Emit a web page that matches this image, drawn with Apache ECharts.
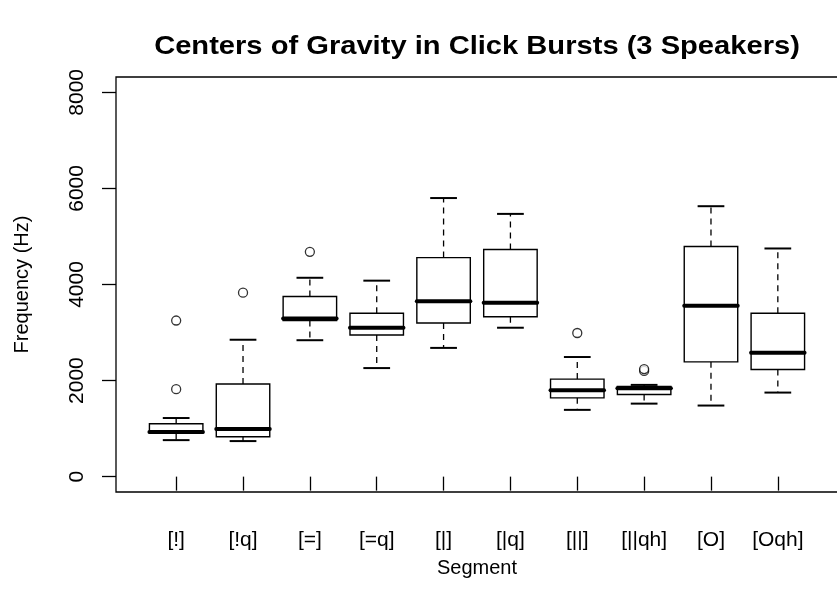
<!DOCTYPE html>
<html>
<head>
<meta charset="utf-8">
<title>Centers of Gravity in Click Bursts</title>
<script src="https://cdn.jsdelivr.net/npm/echarts@6/dist/echarts.min.js"></script>
<style>
  html, body { margin: 0; padding: 0; background: #fff; }
  #chart { width: 837px; height: 607px; }
</style>
</head>
<body>
<div id="chart"></div>
<script>
// segment names
var categories = ['[!]', '[!q]', '[=]', '[=q]', '[|]', '[|q]', '[||]', '[||qh]', '[O]', '[Oqh]'];

// box statistics per segment (Hz)
var lowerWhisker = [760, 740, 2840, 2260, 2680, 3100, 1390, 1520, 1480, 1750];
var q1 = [900, 830, 3250, 2950, 3200, 3330, 1640, 1710, 2390, 2230];
var median = [930, 990, 3290, 3100, 3650, 3620, 1800, 1840, 3560, 2580];
var q3 = [1100, 1930, 3750, 3400, 4560, 4730, 2030, 1880, 4790, 3400];
var upperWhisker = [1220, 2850, 4140, 4080, 5800, 5470, 2490, 1910, 5630, 4750];

// outliers: which segment (1-based) and value
var outlierSegment = [1, 1, 2, 3, 7, 8, 8];
var outlierValue = [1820, 3250, 3830, 4680, 2990, 2200, 2240];

var yTicks = [0, 2000, 4000, 6000, 8000];
var xTicks = categories.map(function (c, i) { return i + 1; });

var FONT = 'Liberation Sans, Arial, Helvetica, sans-serif';

var boxData = categories.map(function (c, i) {
  return [i + 1, lowerWhisker[i], q1[i], median[i], q3[i], upperWhisker[i]];
});
var outlierData = outlierSegment.map(function (s, i) {
  return [s, outlierValue[i]];
});

function renderBox(params, api) {
  var x = api.value(0);
  var pLo = api.coord([x, api.value(1)]);
  var pQ1 = api.coord([x, api.value(2)]);
  var pMed = api.coord([x, api.value(3)]);
  var pQ3 = api.coord([x, api.value(4)]);
  var pHi = api.coord([x, api.value(5)]);
  var halfW = api.size([0.4, 0])[0];   // box width 0.8 like R
  var capW = halfW / 2;
  var cx = pMed[0];
  var dashed = { stroke: '#000', lineWidth: 1.3, lineDash: [6, 5] };
  var solid = { stroke: '#000', lineWidth: 2 };
  return {
    type: 'group',
    children: [
      { type: 'line', shape: { x1: cx, y1: pQ3[1], x2: cx, y2: pHi[1] }, style: dashed },
      { type: 'line', shape: { x1: cx, y1: pQ1[1], x2: cx, y2: pLo[1] }, style: dashed },
      { type: 'line', shape: { x1: cx - capW, y1: pHi[1], x2: cx + capW, y2: pHi[1] }, style: solid },
      { type: 'line', shape: { x1: cx - capW, y1: pLo[1], x2: cx + capW, y2: pLo[1] }, style: solid },
      {
        type: 'rect',
        shape: { x: cx - halfW, y: pQ3[1], width: halfW * 2, height: pQ1[1] - pQ3[1] },
        style: { fill: '#fff', stroke: '#000', lineWidth: 1.4 }
      },
      {
        type: 'line',
        shape: { x1: cx - halfW, y1: pMed[1], x2: cx + halfW, y2: pMed[1] },
        style: { stroke: '#000', lineWidth: 4, lineCap: 'round' }
      }
    ]
  };
}

var chart = echarts.init(document.getElementById('chart'), null, { renderer: 'canvas' });

var option = {
  backgroundColor: '#fff',
  animation: false,
  graphic: [
    {
      type: 'text',
      x: 477,
      y: 47,
      scaleX: 1.12,
      style: {
        text: 'Centers of Gravity in Click Bursts (3 Speakers)',
        fontFamily: FONT,
        fontWeight: 'bold',
        fontSize: 26,
        fill: '#000',
        textAlign: 'center',
        textVerticalAlign: 'middle'
      }
    }
  ],
  grid: {
    left: 116,
    top: 77,
    width: 722,
    height: 415,
    show: true,
    borderColor: '#000',
    borderWidth: 1.3,
    backgroundColor: 'transparent',
    outerBoundsMode: 'none'
  },
  xAxis: {
    type: 'value',
    min: 0.1,
    max: 10.9,
    splitLine: { show: false },
    axisLine: { show: false },
    axisTick: {
      show: true,
      customValues: xTicks,
      length: 14,
      lineStyle: { color: '#000', width: 1.3 }
    },
    axisLabel: {
      customValues: xTicks,
      formatter: function (v) { return categories[Math.round(v) - 1]; },
      color: '#000',
      fontSize: 21,
      fontFamily: FONT,
      margin: 38
    },
    name: 'Segment',
    nameLocation: 'middle',
    nameGap: 66,
    nameTextStyle: { color: '#000', fontSize: 20, fontFamily: FONT }
  },
  yAxis: {
    type: 'value',
    min: -320,
    max: 8320,
    splitLine: { show: false },
    axisLine: { show: false },
    axisTick: {
      show: true,
      customValues: yTicks,
      length: 14,
      lineStyle: { color: '#000', width: 1.3 }
    },
    axisLabel: {
      customValues: yTicks,
      formatter: function (v) { return String(v); },
      rotate: 90,
      color: '#000',
      fontSize: 21,
      fontFamily: FONT,
      margin: 28
    },
    name: 'Frequency (Hz)',
    nameLocation: 'middle',
    nameRotate: 90,
    nameGap: 84,
    nameTextStyle: { color: '#000', fontSize: 20, fontFamily: FONT }
  },
  series: [
    {
      type: 'custom',
      renderItem: renderBox,
      encode: { x: 0, y: [1, 2, 3, 4, 5] },
      data: boxData,
      z: 2
    },
    {
      type: 'scatter',
      symbol: 'circle',
      symbolSize: 9,
      itemStyle: { color: '#fff', borderColor: '#000', borderWidth: 1.3 },
      data: outlierData,
      z: 3
    }
  ]
};

chart.setOption(option);
window.onresize = chart.resize;
</script>
</body>
</html>
